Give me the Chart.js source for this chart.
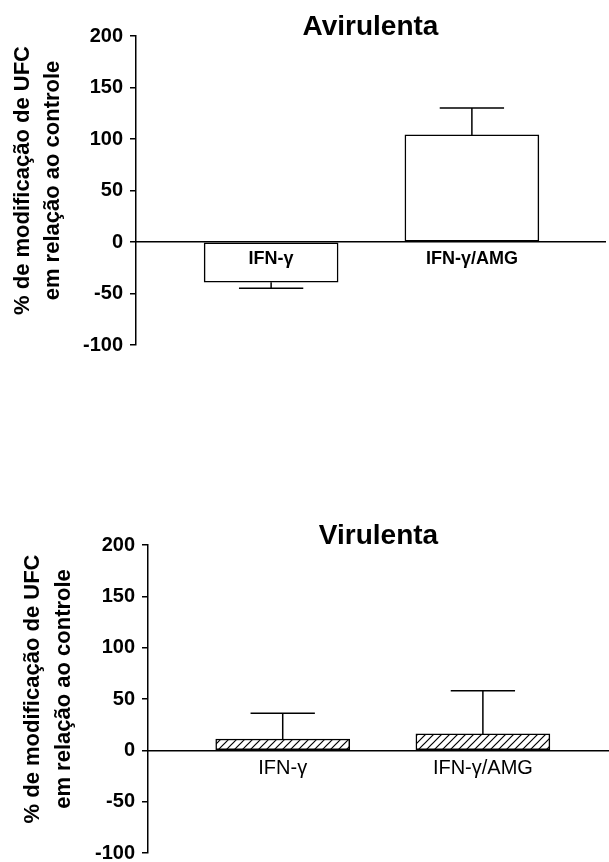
<!DOCTYPE html>
<html>
<head>
<meta charset="utf-8">
<script src="https://cdn.jsdelivr.net/npm/chart.js@4.4.0/dist/chart.umd.min.js"></script>
<style>
  body { margin: 0; background: #fff; width: 609px; height: 862px; position: relative; overflow: hidden; }
  .box { position: absolute; left: 0; width: 609px; }
  #boxTop { top: 0; height: 380px; }
  #boxBottom { top: 480px; height: 400px; }
</style>
</head>
<body>
<div class="box" id="boxTop"><canvas id="chartTop" width="609" height="380"></canvas></div>
<div class="box" id="boxBottom"><canvas id="chartBottom" width="609" height="400"></canvas></div>
<script>
// data
const categories = ["IFN-γ", "IFN-γ/AMG"];
const yTicks = [-100, -50, 0, 50, 100, 150, 200];
const aviMeans = [-39, 104];
const aviErrors = [6, 26];
const virMeans = [11, 16];
const virErrors = [25, 42];
const yTitle = ["% de modificação de UFC", "em relação ao controle"];

const FONT = "'Liberation Sans', Arial, Helvetica, sans-serif";

// diagonal hatch for the "Virulenta" bars
function hatchPattern() {
  const c = document.createElement("canvas");
  c.width = 8; c.height = 8;
  const g = c.getContext("2d");
  g.fillStyle = "#fff";
  g.fillRect(0, 0, 8, 8);
  g.strokeStyle = "#000";
  g.lineWidth = 1.2;
  g.beginPath();
  g.moveTo(0, 8); g.lineTo(8, 0);
  g.moveTo(-1, 1); g.lineTo(1, -1);
  g.moveTo(7, 9); g.lineTo(9, 7);
  g.stroke();
  return g.createPattern(c, "repeat");
}

// one-sided error bars, drawn outward from the end of each bar
const errorBars = {
  id: "errorBars",
  afterDatasetsDraw(chart) {
    const ctx = chart.ctx;
    const ds = chart.data.datasets[0];
    const yScale = chart.scales.y;
    ctx.save();
    ctx.strokeStyle = "#000";
    ctx.lineWidth = 1.5;
    chart.getDatasetMeta(0).data.forEach((bar, i) => {
      const v = ds.data[i].y;
      const yEnd = yScale.getPixelForValue(v + Math.sign(v) * ds.errors[i]);
      const half = bar.width * 0.24;
      ctx.beginPath();
      ctx.moveTo(bar.x, bar.y);
      ctx.lineTo(bar.x, yEnd);
      ctx.moveTo(bar.x - half, yEnd);
      ctx.lineTo(bar.x + half, yEnd);
      ctx.stroke();
    });
    ctx.restore();
  }
};

// panel heading and the two-line rotated y title
const panelText = {
  id: "panelText",
  afterDraw(chart, args, opts) {
    const ctx = chart.ctx;
    const a = chart.chartArea;
    ctx.save();
    ctx.fillStyle = "#000";
    ctx.font = "bold 28px " + FONT;
    ctx.textAlign = "center";
    ctx.textBaseline = "alphabetic";
    ctx.fillText(opts.title, (a.left + a.right) / 2, a.top - 1);

    ctx.font = "bold 22px " + FONT;
    ctx.textBaseline = "middle";
    const cy = (a.top + a.bottom) / 2 - 10;
    yTitle.forEach((line, i) => {
      ctx.save();
      ctx.translate(opts.titleX[i], cy);
      ctx.rotate(-Math.PI / 2);
      ctx.fillText(line, 0, 0);
      ctx.restore();
    });
    ctx.restore();
  }
};

function buildChart(canvasId, cfg) {
  new Chart(document.getElementById(canvasId), {
    type: "bar",
    data: {
      datasets: [{
        data: cfg.means.map((m, i) => ({ x: i, y: m })),
        errors: cfg.errors,
        backgroundColor: cfg.fill,
        borderColor: "#000",
        borderWidth: 1.5,
        borderSkipped: false,
        barThickness: 134
      }]
    },
    options: {
      responsive: false,
      animation: false,
      layout: { padding: cfg.padding },
      plugins: {
        legend: { display: false },
        tooltip: { enabled: false },
        panelText: { title: cfg.title, titleX: cfg.titleX }
      },
      scales: {
        x: {
          type: "linear",
          axis: "x",
          offset: false,
          position: { y: 0 },
          min: cfg.xMin,
          max: cfg.xMax,
          afterBuildTicks: (s) => { s.ticks = categories.map((c, i) => ({ value: i })); },
          grid: { display: false, drawTicks: false },
          border: { display: true, color: "#000", width: 1.5, z: 1 },
          ticks: {
            z: 1,
            autoSkip: false,
            maxRotation: 0,
            padding: 6,
            color: "#000",
            font: { family: FONT, size: cfg.labelSize, weight: cfg.labelWeight },
            callback: (v) => categories[v]
          }
        },
        y: {
          min: yTicks[0],
          max: yTicks[yTicks.length - 1],
          afterBuildTicks: (s) => { s.ticks = yTicks.map((v) => ({ value: v })); },
          afterFit: (s) => { s.width = cfg.axisLeft; },
          grid: { drawOnChartArea: false, drawTicks: true, tickLength: 6, color: "#000", lineWidth: 1.5 },
          border: { display: true, color: "#000", width: 1.5 },
          ticks: {
            padding: 7,
            color: "#000",
            font: { family: FONT, size: 20, weight: "bold", lineHeight: 1 }
          }
        }
      }
    },
    plugins: [errorBars, panelText]
  });
}

buildChart("chartTop", {
  title: "Avirulenta",
  means: aviMeans,
  errors: aviErrors,
  fill: "#fff",
  labelWeight: "bold",
  labelSize: 18,
  axisLeft: 136,
  titleX: [23, 53],
  xMin: -0.673,
  xMax: 1.663,
  padding: { top: 36, bottom: 35, left: 0, right: 4 }
});

buildChart("chartBottom", {
  title: "Virulenta",
  means: virMeans,
  errors: virErrors,
  fill: hatchPattern(),
  labelWeight: "normal",
  labelSize: 20,
  axisLeft: 148,
  titleX: [33, 64],
  xMin: -0.673,
  xMax: 1.63,
  padding: { top: 65, bottom: 27, left: 0, right: 0 }
});
</script>
</body>
</html>
